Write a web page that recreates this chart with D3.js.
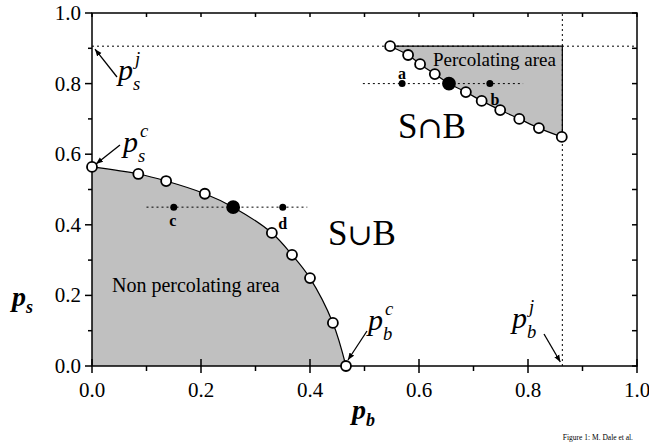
<!DOCTYPE html>
<html>
<head>
<meta charset="utf-8">
<script src="https://cdn.jsdelivr.net/npm/d3@7"></script>
<style>
  body { margin: 0; background: #fff; }
  svg text { font-family: 'Liberation Serif', 'DejaVu Serif', serif; fill: #000; }
</style>
</head>
<body>
<div id="chart"></div>
<script>
// lower boundary (S∪B)
const lowerPb = [0, 0.085, 0.136, 0.207, 0.259, 0.330, 0.367, 0.400, 0.442, 0.466]
const lowerPs = [0.564, 0.544, 0.524, 0.488, 0.450, 0.377, 0.315, 0.249, 0.122, 0.0]
const lowerFilled = 4

// upper boundary (S∩B)
const upperPb = [0.547, 0.580, 0.602, 0.629, 0.655, 0.686, 0.715, 0.749, 0.784, 0.820, 0.862]
const upperPs = [0.906, 0.881, 0.855, 0.827, 0.800, 0.776, 0.751, 0.725, 0.700, 0.674, 0.649]
const upperFilled = 4

const pbJ = 0.863
const psJ = 0.906

// small points a, b, c, d and their dotted guide lines
const smallPts = [
  { name: 'a', pb: 0.569, ps: 0.80 },
  { name: 'b', pb: 0.730, ps: 0.80 },
  { name: 'c', pb: 0.150, ps: 0.45 },
  { name: 'd', pb: 0.350, ps: 0.45 }
]
const guides = [
  { ps: 0.80, from: 0.497, to: 0.791 },
  { ps: 0.45, from: 0.100, to: 0.395 }
]

const ticks = [0, 0.2, 0.4, 0.6, 0.8, 1.0]
const minorTicks = [0.1, 0.3, 0.5, 0.7, 0.9]

const width = 649, height = 443
const margin = { top: 13, right: 12, bottom: 77, left: 92 }
const innerW = width - margin.left - margin.right
const innerH = height - margin.top - margin.bottom

const svg = d3.select('#chart').append('svg')
  .attr('width', width).attr('height', height)

const defs = svg.append('defs')
defs.append('marker')
  .attr('id', 'arrow')
  .attr('viewBox', '0 0 10 10')
  .attr('refX', 10).attr('refY', 5)
  .attr('markerWidth', 7).attr('markerHeight', 7)
  .attr('markerUnits', 'userSpaceOnUse')
  .attr('orient', 'auto')
  .append('path').attr('d', 'M0,1 L10,5 L0,9 Z').attr('fill', '#000')

const g = svg.append('g').attr('transform', `translate(${margin.left},${margin.top})`)

const x = d3.scaleLinear().domain([0, 1]).range([0, innerW])
const y = d3.scaleLinear().domain([0, 1]).range([innerH, 0])

const lower = lowerPb.map((pb, i) => ({ pb, ps: lowerPs[i], filled: i === lowerFilled }))
const upper = upperPb.map((pb, i) => ({ pb, ps: upperPs[i], filled: i === upperFilled }))

const curve = d3.line().x(d => x(d.pb)).y(d => y(d.ps)).curve(d3.curveCatmullRom)

// Non percolating area
const lowerArea = d3.area().x(d => x(d.pb)).y0(y(0)).y1(d => y(d.ps)).curve(d3.curveCatmullRom)
g.append('path').datum(lower)
  .attr('d', lowerArea)
  .attr('fill', '#c0c0c0')

// Percolating area
g.append('path')
  .attr('d', curve(upper) + `L${x(pbJ)},${y(upper[upper.length - 1].ps)}L${x(pbJ)},${y(psJ)}Z`)
  .attr('fill', '#c0c0c0')
  .attr('stroke', '#000').attr('stroke-width', 1.2)

// dotted j lines
g.append('line')
  .attr('x1', x(0)).attr('x2', x(1))
  .attr('y1', y(psJ)).attr('y2', y(psJ))
  .attr('stroke', '#000').attr('stroke-width', 1).attr('stroke-dasharray', '2,3')
g.append('line')
  .attr('x1', x(pbJ)).attr('x2', x(pbJ))
  .attr('y1', y(0)).attr('y2', y(1))
  .attr('stroke', '#000').attr('stroke-width', 1).attr('stroke-dasharray', '2,3')

// dotted guides
g.selectAll('.guide').data(guides).join('line')
  .attr('x1', d => x(d.from)).attr('x2', d => x(d.to))
  .attr('y1', d => y(d.ps)).attr('y2', d => y(d.ps))
  .attr('stroke', '#000').attr('stroke-width', 1).attr('stroke-dasharray', '2,3')

// boundary curves
g.append('path').datum(lower).attr('d', curve)
  .attr('fill', 'none').attr('stroke', '#000').attr('stroke-width', 1.2)

// axes
const axisColor = '#000'
g.append('rect').attr('width', innerW).attr('height', innerH)
  .attr('fill', 'none').attr('stroke', axisColor).attr('stroke-width', 1.5)

const axBottom = g.append('g').attr('transform', `translate(0,${innerH})`)
axBottom.selectAll('.maj').data(ticks).join('line')
  .attr('x1', d => x(d)).attr('x2', d => x(d)).attr('y1', -7).attr('y2', 7)
  .attr('stroke', axisColor).attr('stroke-width', 1.5)
axBottom.selectAll('.min').data(minorTicks).join('line')
  .attr('x1', d => x(d)).attr('x2', d => x(d)).attr('y1', 0).attr('y2', 5)
  .attr('stroke', axisColor).attr('stroke-width', 1.5)
axBottom.selectAll('text').data(ticks).join('text')
  .attr('x', d => x(d)).attr('y', 31)
  .attr('text-anchor', 'middle').attr('font-size', 21)
  .text(d3.format('.1f'))

const axLeft = g.append('g')
axLeft.selectAll('.maj').data(ticks).join('line')
  .attr('x1', -7).attr('x2', 0).attr('y1', d => y(d)).attr('y2', d => y(d))
  .attr('stroke', axisColor).attr('stroke-width', 1.5)
axLeft.selectAll('.min').data(minorTicks).join('line')
  .attr('x1', -4).attr('x2', 0).attr('y1', d => y(d)).attr('y2', d => y(d))
  .attr('stroke', axisColor).attr('stroke-width', 1.5)
axLeft.selectAll('text').data(ticks).join('text')
  .attr('x', -11).attr('y', d => y(d) + 7)
  .attr('text-anchor', 'end').attr('font-size', 21)
  .text(d3.format('.1f'))

const axTop = g.append('g')
axTop.selectAll('line').data(ticks.concat(minorTicks)).join('line')
  .attr('x1', d => x(d)).attr('x2', d => x(d)).attr('y1', 0).attr('y2', 4)
  .attr('stroke', axisColor).attr('stroke-width', 1.5)
const axRight = g.append('g').attr('transform', `translate(${innerW},0)`)
axRight.selectAll('line').data(ticks.concat(minorTicks)).join('line')
  .attr('x1', -5).attr('x2', 0).attr('y1', d => y(d)).attr('y2', d => y(d))
  .attr('stroke', axisColor).attr('stroke-width', 1.5)

// markers on the boundaries
const allPts = lower.concat(upper)
g.selectAll('.pt').data(allPts).join('circle')
  .attr('cx', d => x(d.pb)).attr('cy', d => y(d.ps))
  .attr('r', d => d.filled ? 6 : 5)
  .attr('fill', d => d.filled ? '#000' : '#fff')
  .attr('stroke', '#000').attr('stroke-width', 1.8)

g.selectAll('.sp').data(smallPts).join('circle')
  .attr('cx', d => x(d.pb)).attr('cy', d => y(d.ps))
  .attr('r', 3.5).attr('fill', '#000')

// point labels
const ptLabelOffset = { a: [0, -5], b: [5, 21], c: [-1, 19], d: [0, 22] }
g.selectAll('.pl').data(smallPts).join('text')
  .attr('x', d => x(d.pb) + ptLabelOffset[d.name][0])
  .attr('y', d => y(d.ps) + ptLabelOffset[d.name][1])
  .attr('text-anchor', 'middle').attr('font-size', 16).attr('font-weight', 'bold')
  .text(d => d.name)

// region labels
g.append('text').attr('x', 20).attr('y', 279).attr('font-size', 20).text('Non percolating area')
g.append('text').attr('x', 341).attr('y', 53).attr('font-size', 19).text('Percolating area')
function setLabel(tx, ty, sym) {
  const t = g.append('text').attr('x', tx).attr('y', ty).attr('font-size', 35)
  t.append('tspan').text('S')
  t.append('tspan').style('font-family', "'DejaVu Serif', serif").attr('font-size', 30).text(sym)
  t.append('tspan').text('B')
}
setLabel(236, 232, '\u222A')
setLabel(306, 125, '\u2229')

// italic p labels with sub/superscript (separate texts, stacked)
function pLabel(sub, sup, tx, ty, size) {
  g.append('text').attr('x', tx).attr('y', ty).attr('font-size', size).attr('font-style', 'italic').text('p')
  g.append('text').attr('x', tx + 17).attr('y', ty - 15).attr('font-size', size * 0.62).attr('font-style', 'italic').text(sup)
  g.append('text').attr('x', tx + 15).attr('y', ty + 10).attr('font-size', size * 0.62).attr('font-style', 'italic').text(sub)
}
function arrow(fx, fy, tx, ty) {
  g.append('line').attr('x1', fx).attr('y1', fy).attr('x2', tx).attr('y2', ty)
    .attr('stroke', '#000').attr('stroke-width', 1.3).attr('marker-end', 'url(#arrow)')
}

pLabel('s', 'j', 26, 67, 30)
arrow(25, 64, x(0) + 3, y(psJ) + 3)

pLabel('s', 'c', 31, 139, 30)
arrow(28, 132, x(lowerPb[0]) + 4, y(lowerPs[0]) - 3)

pLabel('b', 'c', 276, 317, 30)
arrow(275, 318, x(lowerPb[lowerPb.length - 1]) + 2, y(0) - 6)

pLabel('b', 'j', 420, 315, 30)
arrow(452, 321, x(pbJ) - 2, y(0) - 4)

// axis titles
const ysT = svg.append('text').attr('x', 12).attr('y', 306)
  .attr('font-size', 28).attr('font-style', 'italic').attr('font-weight', 'bold')
ysT.append('tspan').text('p')
ysT.append('tspan').attr('dy', 7).attr('font-size', 18).text('s')

const xbT = svg.append('text').attr('x', 352).attr('y', 419)
  .attr('font-size', 28).attr('font-style', 'italic').attr('font-weight', 'bold')
xbT.append('tspan').text('p')
xbT.append('tspan').attr('dy', 7).attr('font-size', 18).text('b')

svg.append('text').attr('x', 633).attr('y', 440).attr('text-anchor', 'end')
  .attr('font-size', 7.5).attr('fill', '#444')
  .text('Figure 1: M. Dale et al.')
</script>
</body>
</html>
